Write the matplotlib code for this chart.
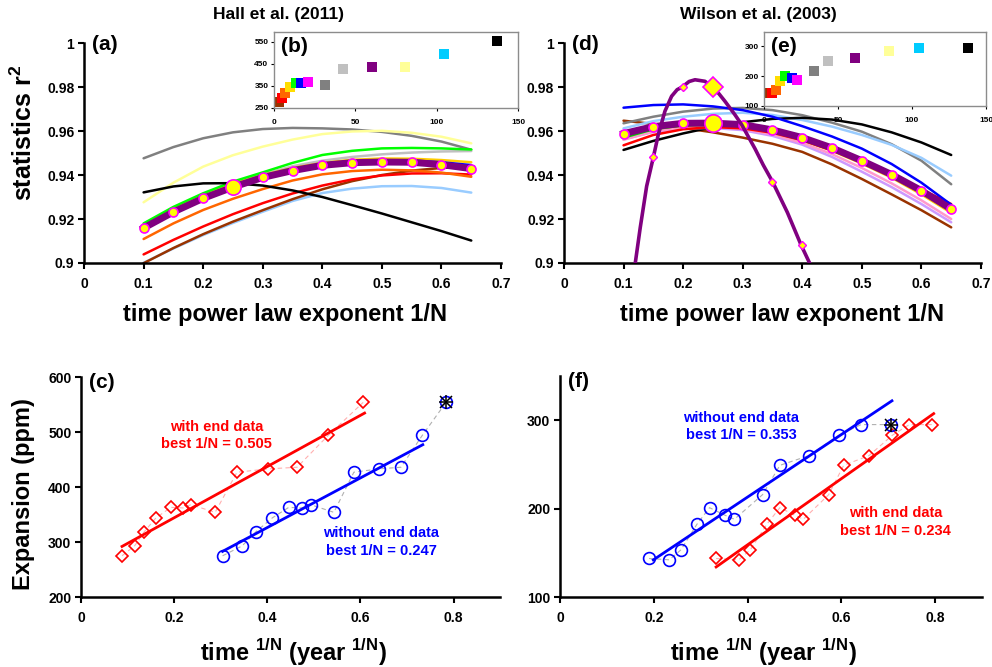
import numpy as np
import matplotlib
matplotlib.use('Agg')
import matplotlib.pyplot as plt

plt.rcParams['font.family'] = ['Liberation Sans', 'DejaVu Sans']
plt.rcParams['font.weight'] = 'bold'
plt.rcParams['mathtext.fontset'] = 'custom'
plt.rcParams['mathtext.rm'] = 'Liberation Sans'
plt.rcParams['mathtext.bf'] = 'Liberation Sans:bold'

# exponenti 1/N provati (pannelli a, d)
expo = [0.10, 0.15, 0.20, 0.25, 0.30, 0.35, 0.40, 0.45, 0.50, 0.55, 0.60, 0.65]

# Hall et al. (2011): r^2 per ogni curva
h_dgray = [0.9476, 0.9527, 0.9567, 0.9594, 0.9609, 0.9614, 0.9612, 0.9607, 0.9596, 0.9578, 0.9552, 0.9515]
h_lyellow = [0.9276, 0.9365, 0.9438, 0.9490, 0.9529, 0.9561, 0.9586, 0.9598, 0.9601, 0.9592, 0.9574, 0.9544]
h_green = [0.9180, 0.9255, 0.9317, 0.9370, 0.9412, 0.9455, 0.9491, 0.9510, 0.9521, 0.9523, 0.9521, 0.9516]
h_lgray = [0.9165, 0.9240, 0.9305, 0.9358, 0.9403, 0.9440, 0.9465, 0.9482, 0.9494, 0.9502, 0.9507, 0.9509]
h_gold = [0.9170, 0.9245, 0.9308, 0.9360, 0.9400, 0.9432, 0.9455, 0.9469, 0.9475, 0.9474, 0.9468, 0.9458]
h_blue = [0.9162, 0.9236, 0.9298, 0.9349, 0.9393, 0.9425, 0.9450, 0.9463, 0.9467, 0.9466, 0.9458, 0.9445]
h_orange = [0.9109, 0.9180, 0.9241, 0.9292, 0.9336, 0.9375, 0.9403, 0.9418, 0.9424, 0.9421, 0.9411, 0.9392]
h_red = [0.9039, 0.9105, 0.9166, 0.9222, 0.9272, 0.9316, 0.9352, 0.9380, 0.9398, 0.9407, 0.9408, 0.9402]
h_brown = [0.8999, 0.9068, 0.9131, 0.9188, 0.9240, 0.9290, 0.9335, 0.9372, 0.9400, 0.9420, 0.9432, 0.9437]
h_lblue = [0.9001, 0.9066, 0.9127, 0.9182, 0.9233, 0.9282, 0.9318, 0.9338, 0.9349, 0.9350, 0.9341, 0.9320]
h_black = [0.9321, 0.9348, 0.9362, 0.9363, 0.9352, 0.9330, 0.9300, 0.9263, 0.9225, 0.9185, 0.9145, 0.9102]
h_all = [0.9159, 0.9232, 0.9294, 0.9345, 0.9389, 0.9420, 0.9444, 0.9456, 0.9459, 0.9458, 0.9447, 0.9429]

# Wilson et al. (2003)
w_blue = [0.9706, 0.9718, 0.9721, 0.9712, 0.9695, 0.9665, 0.9622, 0.9575, 0.9520, 0.9450, 0.9365, 0.9265]
w_dgray = [0.9635, 0.9665, 0.9688, 0.9702, 0.9705, 0.9695, 0.9672, 0.9638, 0.9597, 0.9540, 0.9465, 0.9358]
w_lblue = [0.9612, 0.9645, 0.9665, 0.9678, 0.9683, 0.9673, 0.9650, 0.9620, 0.9582, 0.9537, 0.9478, 0.9397]
w_black = [0.9514, 0.9555, 0.9589, 0.9618, 0.9640, 0.9655, 0.9660, 0.9652, 0.9630, 0.9594, 0.9548, 0.9491]
w_brown = [0.9647, 0.9632, 0.9614, 0.9594, 0.9570, 0.9542, 0.9505, 0.9448, 0.9382, 0.9312, 0.9240, 0.9162]
w_red = [0.9535, 0.9582, 0.9608, 0.9618, 0.9612, 0.9592, 0.9558, 0.9512, 0.9458, 0.9395, 0.9335, 0.9268]
w_green = [0.9570, 0.9608, 0.9626, 0.9630, 0.9622, 0.9598, 0.9563, 0.9516, 0.9458, 0.9394, 0.9320, 0.9236]
w_gold = [0.9575, 0.9610, 0.9625, 0.9627, 0.9618, 0.9594, 0.9558, 0.9510, 0.9452, 0.9388, 0.9312, 0.9228]
w_pink = [0.9560, 0.9598, 0.9616, 0.9620, 0.9610, 0.9585, 0.9546, 0.9495, 0.9432, 0.9362, 0.9285, 0.9200]
w_lavender = [0.9562, 0.9596, 0.9612, 0.9614, 0.9604, 0.9578, 0.9538, 0.9482, 0.9415, 0.9345, 0.9268, 0.9185]
w_all = [0.9588, 0.9620, 0.9635, 0.9636, 0.9629, 0.9605, 0.9570, 0.9523, 0.9465, 0.9402, 0.9329, 0.9245]

# curva stretta viola del pannello (d)
w_peak_x = [0.114, 0.1192, 0.128, 0.1388, 0.150, 0.1583, 0.1695, 0.1807, 0.190, 0.1986, 0.210, 0.220, 0.2367,
            0.249, 0.260, 0.2703, 0.287, 0.2983, 0.3206, 0.3346, 0.350, 0.375, 0.398, 0.414, 0.420]
w_peak_y = [0.890, 0.899, 0.916, 0.9349, 0.948, 0.9583, 0.969, 0.9758, 0.9788, 0.980, 0.9825, 0.9833, 0.9826,
            0.980, 0.977, 0.9735, 0.9674, 0.9629, 0.952, 0.9445, 0.937, 0.923, 0.9082, 0.899, 0.895]
w_peak_mark_x = [0.15, 0.20, 0.35, 0.40]
w_peak_mark_y = [0.948, 0.980, 0.937, 0.908]
w_peak_best = (0.25, 0.980)

# pannello (c): Hall
hall_ppm = [275, 293, 319, 344, 363, 362, 368, 354, 427, 433, 436, 494, 554]
hall_x_end = [0.088, 0.115, 0.136, 0.161, 0.193, 0.219, 0.236, 0.288, 0.335, 0.402, 0.464, 0.531, 0.606]
hall_x_noend = [0.304, 0.346, 0.376, 0.411, 0.446, 0.474, 0.493, 0.543, 0.586, 0.639, 0.687, 0.733]
hall_star_x = 0.784
hall_fit_end = ([0.088, 0.609], [292, 534.5])
hall_fit_noend = ([0.304, 0.734], [283, 477])
hall_years = [2.9, 5.2, 7.0, 9.7, 13.8, 16.9, 21.1, 31.4, 42.4, 60.5, 80.6, 104.7, 137.0]

# pannello (f): Wilson
wil_ppm = [143.6, 142.1, 153.4, 182.3, 201.1, 192.5, 188.0, 215.8, 249.0, 260.0, 283.1, 295.1, 295.1]
wil_x_end = [0.333, 0.381, 0.406, 0.441, 0.469, 0.501, 0.519, 0.573, 0.605, 0.659, 0.709, 0.745, 0.794]
wil_x_noend = [0.190, 0.233, 0.258, 0.292, 0.319, 0.352, 0.372, 0.432, 0.469, 0.531, 0.595, 0.642]
wil_star_x = 0.706
wil_fit_end = ([0.333, 0.797], [134, 307.5])
wil_fit_noend = ([0.199, 0.708], [142, 322])
wil_years = [2.9, 5.7, 7.9, 10.9, 14.3, 18.8, 22.6, 33.9, 43.0, 61.3, 84.4, 104.8, 137.6]

sq_colors = ['#993300', '#ff0000', '#ff6600', '#ffdd00', '#00ff00', '#0000ff', '#ff00ff',
             '#808080', '#c0c0c0', '#800080', '#ffff99', '#00ccff', '#000000']

hall_curves = [(h_dgray, '#808080'), (h_lyellow, '#ffff99'), (h_lblue, '#99ccff'), (h_brown, '#993300'),
               (h_red, '#ff0000'), (h_orange, '#ff6600'), (h_lgray, '#c0c0c0'), (h_gold, '#ffcc00'),
               (h_blue, '#0000ff'), (h_green, '#00ff00'), (h_black, '#000000')]
wil_curves = [(w_brown, '#993300'), (w_dgray, '#808080'), (w_lblue, '#99ccff'), (w_black, '#000000'),
              (w_lavender, '#cc99ff'), (w_pink, '#ff99cc'), (w_gold, '#ffcc00'), (w_green, '#00cc00'),
              (w_red, '#ff0000'), (w_blue, '#0000ff')]

fig = plt.figure(figsize=(9.92, 6.67), dpi=100)


def style_axes(ax):
    for s in ['top', 'right']:
        ax.spines[s].set_visible(False)
    for s in ['left', 'bottom']:
        ax.spines[s].set_linewidth(1.8)
    ax.tick_params(direction='out', length=4, width=1.5, labelsize=10)
    ax.tick_params(axis='x', pad=6)
    ax.tick_params(axis='y', pad=3)


def r2_panel(rect, curves, all_vals, big_ms, label, title, title_x):
    ax = fig.add_axes(rect)
    for vals, col in curves:
        ax.plot(expo, vals, color=col, lw=1.8, solid_capstyle='round')
    ax.plot(expo, all_vals, color='#800080', lw=5, zorder=5)
    ax.plot(expo, all_vals, 'o', color='#ffff00', mec='#ff00ff', mew=1.2, ms=6.5, zorder=6, ls='none')
    ax.plot(expo[3], all_vals[3], 'o', color='#ffff00', mec='#ff00ff', mew=1.2, ms=big_ms, zorder=7)
    ax.set_xlim(0, 0.7)
    ax.set_ylim(0.9, 1.0)
    ax.set_xticks([0, 0.1, 0.2, 0.3, 0.4, 0.5, 0.6, 0.7])
    ax.set_xticklabels(['0', '0.1', '0.2', '0.3', '0.4', '0.5', '0.6', '0.7'])
    ax.set_yticks([0.9, 0.92, 0.94, 0.96, 0.98, 1.0])
    ax.set_yticklabels(['0.9', '0.92', '0.94', '0.96', '0.98', '1'])
    style_axes(ax)
    ax.set_xlabel('time power law exponent 1/N', fontsize=17, fontweight='bold')
    ax.text(0.02, 1.035, label, transform=ax.transAxes, fontsize=15, fontweight='bold', va='top')
    fig.text(title_x, 0.979, title, fontsize=12.5, fontweight='bold', ha='center', va='center')
    return ax


axA = r2_panel([0.0847, 0.6057, 0.4204, 0.3298], hall_curves, h_all, 11, '(a)', 'Hall et al. (2011)', 0.281)
axA.xaxis.set_label_coords(0.481, -0.18)
axA.set_ylabel(r'statistics r$^\mathbf{2}$', fontsize=18, fontweight='bold')
axA.yaxis.set_label_coords(-0.113, 0.593)

axD = r2_panel([0.5685, 0.6057, 0.4204, 0.3298], wil_curves, w_all, 12.5, '(d)', 'Wilson et al. (2003)', 0.764)
axD.xaxis.set_label_coords(0.524, -0.18)
axD.plot(w_peak_x, w_peak_y, color='#800080', lw=2.6, zorder=8)
axD.plot(w_peak_mark_x, w_peak_mark_y, 'D', color='#ffff00', mec='#ff00ff', mew=1.0, ms=4.5, zorder=9, ls='none')
axD.plot(w_peak_best[0], w_peak_best[1], 'D', color='#ffff00', mec='#ff00ff', mew=1.2, ms=10, zorder=9)


def expansion_panel(rect, x_end, x_noend, ppm, star_x, fit_end, fit_noend, ylim, yticks, label):
    ax = fig.add_axes(rect)
    ax.plot(x_end, ppm, color='#ffb0b0', lw=0.8, dashes=(4, 3))
    ax.plot(list(x_noend) + [star_x], ppm, color='#b0b0b0', lw=0.8, dashes=(4, 3))
    ax.plot(fit_end[0], fit_end[1], color='#ff0000', lw=2)
    ax.plot(fit_noend[0], fit_noend[1], color='#0000ff', lw=2)
    ax.plot(x_end, ppm, 'D', mfc='none', mec='#ff0000', mew=1.2, ms=6, ls='none')
    ax.plot(x_noend, ppm[:len(x_noend)], 'o', mfc='none', mec='#0000ff', mew=1.2, ms=8.5, ls='none')
    ax.plot(star_x, ppm[-1], 'o', mfc='none', mec='#0000ff', mew=1.2, ms=8.5)
    ax.plot(star_x, ppm[-1], 'x', color='k', mew=1.1, ms=8)
    ax.plot(star_x, ppm[-1], '+', color='k', mew=1.1, ms=10)
    ax.set_xlim(0, 0.9)
    ax.set_ylim(*ylim)
    ax.set_xticks([0, 0.2, 0.4, 0.6, 0.8])
    ax.set_xticklabels(['0', '0.2', '0.4', '0.6', '0.8'])
    ax.set_yticks(yticks)
    style_axes(ax)
    ax.set_xlabel(r'time $^{\mathbf{1/N}}$ (year $^{\mathbf{1/N}}$)', fontsize=17, fontweight='bold')
    ax.text(0.02, 1.02, label, transform=ax.transAxes, fontsize=15, fontweight='bold', va='top')
    return ax


axC = expansion_panel([0.0817, 0.1049, 0.4224, 0.3298], hall_x_end, hall_x_noend, hall_ppm, hall_star_x,
                      hall_fit_end, hall_fit_noend, (200, 600), [200, 300, 400, 500, 600], '(c)')
axC.xaxis.set_label_coords(0.508, -0.18)
axC.set_ylabel('Expansion (ppm)', fontsize=17, fontweight='bold')
axC.yaxis.set_label_coords(-0.11, 0.47)
axC.text(0.291, 494, 'with end data\nbest 1/N = 0.505', color='#ff0000', fontsize=10.5, fontweight='bold',
         ha='center', va='center', linespacing=1.3)
axC.text(0.645, 300, 'without end data\nbest 1/N = 0.247', color='#0000ff', fontsize=10.5, fontweight='bold',
         ha='center', va='center', linespacing=1.3)

axF = expansion_panel([0.5645, 0.1049, 0.4254, 0.3313], wil_x_end, wil_x_noend, wil_ppm, wil_star_x,
                      wil_fit_end, wil_fit_noend, (100, 350), [100, 200, 300], '(f)')
axF.xaxis.set_label_coords(0.483, -0.18)
axF.text(0.386, 293, 'without end data\nbest 1/N = 0.353', color='#0000ff', fontsize=10.5, fontweight='bold',
         ha='center', va='center', linespacing=1.3)
axF.text(0.716, 185, 'with end data\nbest 1/N = 0.234', color='#ff0000', fontsize=10.5, fontweight='bold',
         ha='center', va='center', linespacing=1.3)


def inset(rect, years, ppm, ylim, yticks, label):
    ax = fig.add_axes(rect)
    ax.set_facecolor('white')
    for s in ax.spines.values():
        s.set_color('#8c8c8c')
        s.set_linewidth(1.0)
    for xv, yv, col in zip(years, ppm, sq_colors):
        ax.plot(xv, yv, 's', color=col, ms=6.5, mew=0)
    ax.set_xlim(0, 150)
    ax.set_ylim(*ylim)
    ax.set_xticks([0, 50, 100, 150])
    ax.set_yticks(yticks)
    ax.tick_params(labelsize=6, length=2, width=0.8, pad=6)
    ax.tick_params(axis='y', pad=2)
    ax.text(0.03, 0.93, label, transform=ax.transAxes, fontsize=15, fontweight='bold', va='top')
    return ax


inset([0.2762, 0.8381, 0.2460, 0.1139], hall_years, hall_ppm, (250, 593), [250, 350, 450, 550], '(b)')
inset([0.7702, 0.8411, 0.2238, 0.1109], wil_years, wil_ppm, (100, 347), [100, 200, 300], '(e)')

fig.savefig('out.png', dpi=100)
